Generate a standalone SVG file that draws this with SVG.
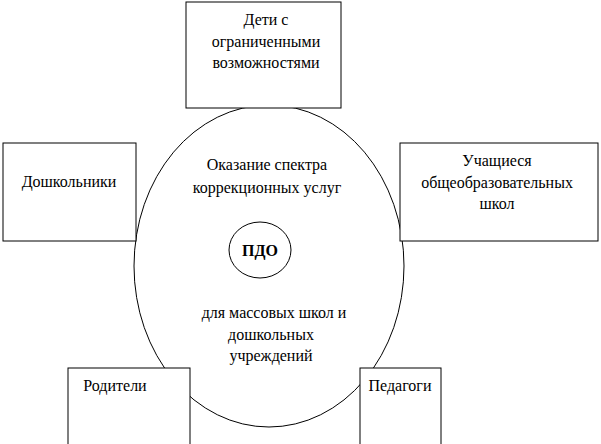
<svg xmlns="http://www.w3.org/2000/svg" width="601" height="444" viewBox="0 0 601 444">
<style>
.b{fill:#fff;stroke:#000;stroke-width:1}
text{font-family:"Liberation Serif",serif;font-size:16px;fill:#000;text-anchor:middle}
</style>
<rect width="601" height="444" fill="#fff"/>
<g id="center">
<ellipse class="b" cx="269" cy="266" rx="135" ry="161"/>
<text x="267" y="170">Оказание спектра</text>
<text x="267" y="193">коррекционных услуг</text>
<text x="274" y="318">для массовых школ  и</text>
<text x="271" y="340">дошкольных</text>
<text x="271" y="361">учреждений</text>
</g>
<g id="pdo">
<ellipse class="b" cx="260" cy="250" rx="31" ry="28"/>
<text x="260" y="256" font-weight="bold">ПДО</text>
</g>
<g id="top"><rect class="b" x="186" y="2" width="155" height="106"/>
<text x="266" y="25">Дети с</text><text x="266" y="47">ограниченными</text><text x="266" y="68">возможностями</text></g>
<g id="left"><rect class="b" x="3" y="143" width="133" height="98"/>
<text x="69" y="187">Дошкольники</text></g>
<g id="right"><rect class="b" x="400" y="143" width="198" height="98"/>
<text x="497" y="166">Учащиеся</text><text x="497" y="188">общеобразовательных</text><text x="497" y="209">школ</text></g>
<g id="bl"><rect class="b" x="68" y="368" width="122" height="80"/>
<text x="115" y="391">Родители</text></g>
<g id="br"><rect class="b" x="360" y="368" width="81" height="80"/>
<text x="400" y="391">Педагоги</text></g>
<g id="connectors"></g>
</svg>
